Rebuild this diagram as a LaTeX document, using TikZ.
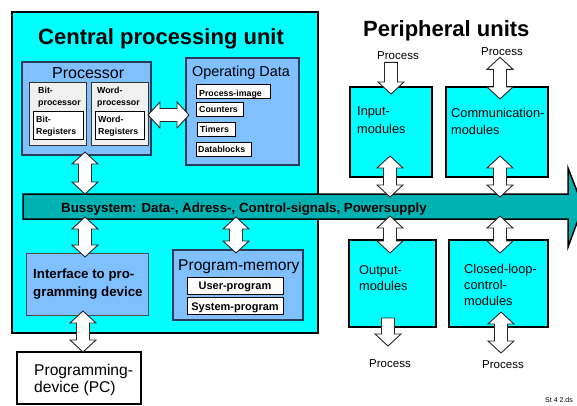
\documentclass[tikz,border=0pt]{standalone}
\usepackage{fontspec}
\setmainfont{Liberation Sans}
\usetikzlibrary{calc,fit}
\definecolor{cpucyan}{RGB}{0,255,255}
\definecolor{lblue}{RGB}{128,192,255}
\definecolor{lgray}{RGB}{240,240,240}
\definecolor{busteal}{RGB}{0,178,178}
\definecolor{darkedge}{RGB}{40,60,90}
\newcommand\dblV[2]{\path[fatarrow] let \p1=(#1), \p2=(#2) in
  (\x1,\y1) -- ++(13pt,-12pt) -- ++(-6.5pt,0pt) -- (\x1+6.5pt,\y2+12pt) -- ++(6.5pt,0pt)
  -- (\x1,\y2) -- ++(-13pt,12pt) -- ++(6.5pt,0pt) -- (\x1-6.5pt,\y1-12pt) -- ++(-6.5pt,0pt) -- cycle;}
\newcommand\dblH[2]{\path[fatarrow] let \p1=(#1), \p2=(#2) in
  (\x1,\y1) -- ++(12pt,13pt) -- ++(0pt,-6.5pt) -- (\x2-12pt,\y1+6.5pt) -- ++(0pt,6.5pt)
  -- (\x2,\y1) -- ++(-12pt,-13pt) -- ++(0pt,6.5pt) -- (\x1+12pt,\y1-6.5pt) -- ++(0pt,-6.5pt) -- cycle;}
\newcommand\sglV[2]{\path[fatarrow] let \p1=(#1), \p2=(#2) in
  (\x1-6.5pt,\y1) -- (\x1+6.5pt,\y1) -- (\x1+6.5pt,\y2+12pt) -- ++(6.5pt,0pt)
  -- (\x1,\y2) -- ++(-13pt,12pt) -- ++(6.5pt,0pt) -- cycle;}
\begin{document}
\begin{tikzpicture}[x=1pt,y=-1pt,
  fatarrow/.style={draw=black!85,fill=white,line width=0.9pt,line join=miter},
  bx/.style={inner sep=0pt,outer sep=0pt},
  cpubox/.style={bx,draw=black,fill=cpucyan,line width=2pt},
  bluebox/.style={bx,draw=darkedge,fill=lblue,line width=1.2pt},
  graybox/.style={bx,draw=black!80,fill=lgray,line width=1pt},
  whitebox/.style={bx,draw=black,fill=white,line width=1pt},
  modbox/.style={bx,draw=black,fill=cpucyan,line width=2pt},
  pcbox/.style={bx,draw=black,fill=white,line width=2pt},
  txt/.style={inner sep=0pt,anchor=base west},
  ctxt/.style={inner sep=0pt,anchor=base},
  fbig/.style={font=\fontsize{22}{26}\selectfont\bfseries},
  fmid/.style={font=\fontsize{#1}{#1}\selectfont},
  fsmall/.style={font=\fontsize{8.8}{10}\selectfont\bfseries},
  fbold/.style={font=\fontsize{#1}{#1}\selectfont\bfseries}
]
\useasboundingbox[fill=white] (0,0) rectangle (577,405);

% CPU frame
\node[cpubox,fit={(12,12) (318,333)}] (cpu) {};
\node[txt,fbig] (cputitle) at (38,44) {Central processing unit};

% Processor
\node[bluebox,fit={(22,62) (151,155)}] (proc) {};
\node[txt,fmid=16] (proctitle) at (52,78) {Processor};
\node[graybox,fit={(29,82) (86,145)}] (bitp) {};
\node[whitebox,fit={(33,111) (83,139)}] (bitr) {};
\node[graybox,fit={(91,82) (148,145)}] (wordp) {};
\node[whitebox,fit={(95,111) (144,139)}] (wordr) {};
\node[txt,fsmall] (t1) at (38,93) {Bit-};
\node[txt,fsmall] (t2) at (38,105) {processor};
\node[txt,fsmall] (t3) at (36,122) {Bit-};
\node[txt,fsmall] (t4) at (36,134) {Registers};
\node[txt,fsmall] (t5) at (97,93) {Word-};
\node[txt,fsmall] (t6) at (97,105) {processor};
\node[txt,fsmall] (t7) at (98,122) {Word-};
\node[txt,fsmall] (t8) at (98,134) {Registers};

% Operating data
\node[bluebox,fit={(186,58) (299,165)}] (od) {};
\node[txt,fmid=14.4] (odtitle) at (192,76) {Operating Data};
\node[whitebox,fit={(196,84) (270,98)}] (pimg) {};
\node[whitebox,fit={(196,102) (243,116)}] (cnt) {};
\node[whitebox,fit={(197,122) (235,136)}] (tmr) {};
\node[whitebox,fit={(196,142) (251,156)}] (dblk) {};
\node[txt,fsmall] (t9) at (199,96) {Process-image};
\node[txt,fsmall] (t10) at (199,112.5) {Counters};
\node[txt,fsmall] (t11) at (200,132) {Timers};
\node[txt,fsmall] (t12) at (198,152) {Datablocks};

% Interface
\node[bluebox,draw=black!70,line width=1pt,fit={(26,253) (148,315)}] (ifc) {};
\node[txt,fbold=13.3] (t13) at (33,278) {Interface to pro-};
\node[txt,fbold=13.3] (t14) at (33,296) {gramming device};

% Program memory
\node[bluebox,fit={(173,250) (303,320)}] (pm) {};
\node[txt,fmid=15.6] (pmtitle) at (178,270) {Program-memory};
\node[whitebox,fit={(187,277) (283,294)}] (up) {};
\node[whitebox,fit={(187,297) (283,314)}] (sp) {};
\node[ctxt,fbold=11] (t15) at (235,289) {User-program};
\node[ctxt,fbold=11] (t16) at (235,310) {System-program};

% Programming device
\node[pcbox,fit={(17,352) (141,404)}] (pc) {};
\node[txt,fmid=15.6] (t17) at (34,375) {Programming-};
\node[txt,fmid=15.6] (t18) at (34,392) {device (PC)};

% Peripheral units
\node[txt,fbig] (pertitle) at (363,36) {Peripheral units};
\node[modbox,fit={(350,87) (432,177)}] (inp) {};
\node[modbox,fit={(446,87) (548,177)}] (com) {};
\node[modbox,fit={(349,240) (436,327)}] (out) {};
\node[modbox,fit={(449,240) (548,327)}] (clc) {};
\node[txt,fmid=12.8] (t19) at (357,115) {Input-};
\node[txt,fmid=12.8] (t20) at (357,133) {modules};
\node[txt,fmid=12.8] (t21) at (451,117) {Communication-};
\node[txt,fmid=12.8] (t22) at (451,134) {modules};
\node[txt,fmid=12.8] (t23) at (359,274) {Output-};
\node[txt,fmid=12.8] (t24) at (359,290) {modules};
\node[txt,fmid=12.8] (t25) at (464,273) {Closed-loop-};
\node[txt,fmid=12.8] (t26) at (464,289) {control-};
\node[txt,fmid=12.8] (t27) at (464,305) {modules};
\node[ctxt,fmid=11.5] (ptl) at (398,59) {Process};
\node[ctxt,fmid=11.5] (ptr) at (502,55) {Process};
\node[ctxt,fmid=11.5] (pbl) at (390,367) {Process};
\node[ctxt,fmid=11.5] (pbr) at (503,368) {Process};

% Bus
\draw[fill=busteal,draw=black,line width=1.5pt,line join=miter]
  (23,194) -- (568,194) -- (568,168) -- (583,206.5) -- (568,247) -- (568,219) -- (23,219) -- cycle;
\node[bx,fit={(23,194) (568,219)}] (bus) {};
\node[txt,fbold=13.3] (bustext) at (61,212) {Bussystem: Data-, Adress-, Control-signals, Powersupply};

% Connectors
\dblV{$(proc.south)+(-1.5,-3)$}{$(proc.south |- bus.north)+(-1.5,0)$}
\dblV{$(ifc.north |- bus.south)+(-2,-2)$}{$(ifc.north)+(-2,4)$}
\dblV{$(pm.north |- bus.south)+(-2,-2)$}{$(pm.north)+(-2,3)$}
\dblV{$(ifc.south)+(-4,-4)$}{$(ifc.south |- pc.north)$}
\dblH{$(proc.east)+(-3,6.5)$}{$(od.west)+(3,3.5)$}
\sglV{$(inp.north |- ptl.south)+(0,3)$}{$(inp.north)+(0,7)$}
\dblV{$(com.north |- ptr.south)+(3,2)$}{$(com.north)+(3,12)$}
\dblV{$(inp.south)+(-1,-21)$}{$(inp.south |- bus.north)+(-1,3)$}
\dblV{$(com.south)+(3,-21)$}{$(com.south |- bus.north)+(3,3)$}
\dblV{$(out.north |- bus.south)+(-2.5,-3)$}{$(out.north)+(-2.5,13)$}
\dblV{$(clc.north |- bus.south)+(1.5,-3)$}{$(clc.north)+(1.5,13)$}
\sglV{$(out.south)+(-4.5,-9)$}{$(out.south)+(-4.5,19)$}
\dblV{$(clc.south)+(2.5,-15)$}{$(clc.south)+(2.5,26)$}

\node[txt,font=\fontsize{7}{8}\selectfont] (stamp) at (545,402) {St 4 2.ds};
\end{tikzpicture}
\end{document}
